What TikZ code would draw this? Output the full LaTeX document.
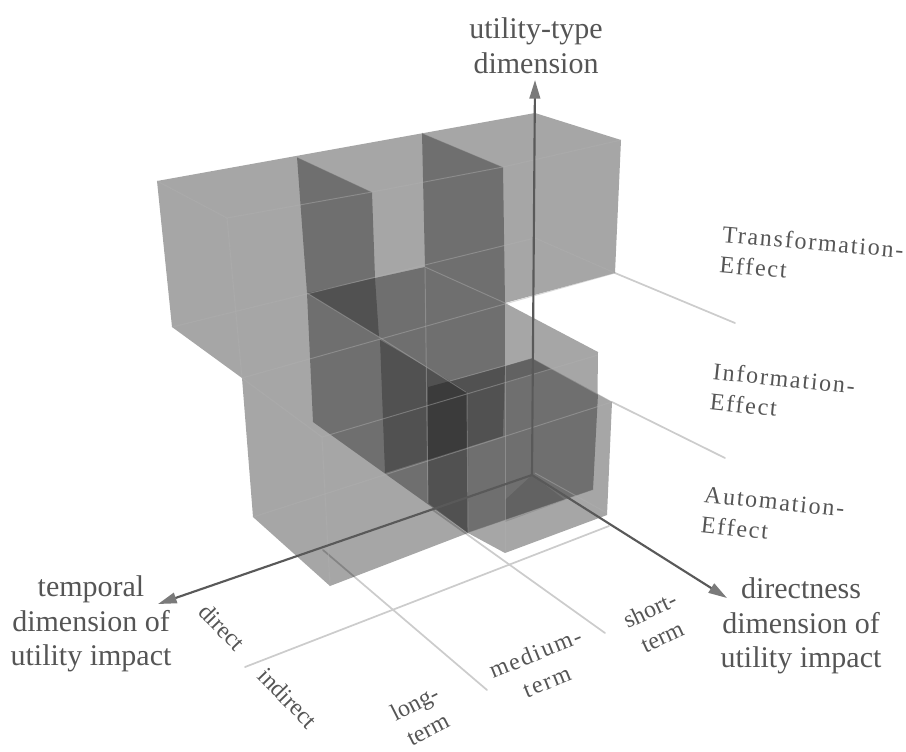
\documentclass[tikz,border=0pt]{standalone}
\usepackage{fontspec}
\setmainfont{Liberation Serif}
\newfontfamily\tracked[LetterSpace=7.5]{Liberation Serif}
\usetikzlibrary{arrows.meta}
\definecolor{txt}{HTML}{555555}
\begin{document}
\begin{tikzpicture}[x=0.75pt,y=-0.75pt,
  lay1/.style={fill=black,fill opacity=.35,draw=none},
  lay2/.style={fill=black,fill opacity=.33,draw=none},
  lay3/.style={fill=black,fill opacity=.27,draw=none},
  lay4/.style={fill=black,fill opacity=.12,draw=none},
  edge/.style={draw=gray!62,line width=.7pt,opacity=.45},
  grid/.style={draw=black!20,line width=1.3pt,line cap=round},
  axis/.style={draw=black!65,line width=1.6pt,-{Triangle[length=14pt,width=8pt,color=black!52]}},
  big/.style={text=txt,font=\fontsize{22.5}{26}\selectfont,align=center,inner sep=0pt},
  small/.style={text=txt,font=\fontsize{18}{22}\selectfont,inner sep=0pt},
  spaced/.style={text=txt,font=\tracked\fontsize{18}{23}\selectfont,inner sep=0pt}]
\useasboundingbox (0,0) rectangle (906,751);
% named points
\coordinate (o) at (532,475);
\coordinate (up) at (535,80);
\coordinate (lf) at (158,604);
\coordinate (rt) at (727,598);
\coordinate (g1a) at (615,273); \coordinate (g1b) at (735,323);
\coordinate (g2a) at (612,402); \coordinate (g2b) at (725,458);
\coordinate (g3a) at (609,526); \coordinate (g3b) at (245,667);
\coordinate (g4a) at (323,550); \coordinate (g4b) at (487,690);
\coordinate (g5a) at (433,510); \coordinate (g5b) at (605,633);
% grid lines
\draw[grid] (g1a) -- (g1b);
\draw[grid] (g2a) -- (g2b);
\draw[grid] (g3a) -- (g3b);
\draw[grid] (g4a) -- (g4b);
\draw[grid] (g5a) -- (g5b);
% silhouette
\path[lay1] (157,181) -- (535,113) -- (621,140) -- (615,273) -- (505,303) -- (598,352) -- (597.5,394) -- (612,402) -- (607,515) -- (505,553) -- (468,533) -- (330,586) -- (253,517) -- (242,378) -- (172,327) -- cycle;
% second layer
\path[lay2] (297,157) -- (372,192) -- (375,278) -- (425,267) -- (422,133) -- (503,167) -- (505,303) -- (505,366) -- (532,358) -- (598,394) -- (593,490) -- (468,533) -- (313,422) -- (307,293) -- cycle;
% third layer
\path[lay3] (307,293) -- (375,278) -- (379,337) -- cycle;
\path[lay3] (380,340) -- (450,381) -- (505,366) -- (503,436) -- (385,473) -- cycle;
\path[lay3] (428,459) -- (468,447) -- (468,533) -- (428,503) -- cycle;
% darkest
\path[lay3] (428,387) -- (450,381) -- (467,392) -- (468,447) -- (428,459) -- cycle;
\path[lay4] (532,475) -- (565,500) -- (505,522) -- (505,500) -- cycle;
\path[lay4] (505,366) -- (532,358) -- (552,369) -- (505,383) -- cycle;
% box edges
\draw[edge] (157,181) -- (227,218) -- (372,192) -- (503,167) -- (621,140);
\draw[edge] (227,218) -- (242,378);
\draw[edge] (172,327) -- (535,238) -- (615,273);
\draw[edge] (242,378) -- (615,273);
\draw[edge] (297,157) -- (372,192);
\draw[edge] (422,133) -- (503,167);
\draw[edge] (307,293) -- (379,337) -- (466,392);
\draw[edge] (425,267) -- (505,303);
\draw[edge] (425,267) -- (428,503);
\draw[edge] (505,303) -- (505,553);
\draw[edge] (322,437) -- (598,355);
\draw[edge] (242,378) -- (322,437) -- (330,586);
\draw[edge] (253,517) -- (612,402);
\draw[edge] (467,392) -- (468,533) -- (593,490);
\draw[edge] (450,381) -- (532,358) -- (612,402);
\draw[edge] (535,473) -- (607,513);
% axes
\draw[axis] (o) -- (up);
\draw[axis] (o) -- (lf);
\draw[axis] (o) -- (rt);
% labels
\node[big] (lu) at (536,46) {utility-type\\dimension};
\node[big] (lt) at (91,624) {temporal\\dimension of\\utility impact};
\node[big] (ld) at (801,626) {directness\\dimension of\\utility impact};
\node[spaced,rotate=-5,align=left,anchor=north west] (l1) at (723,225) {Transformation-\\Effect};
\node[spaced,rotate=-6,align=left,anchor=north west] (l2) at (714,362) {Information-\\Effect};
\node[spaced,rotate=-6,align=left,anchor=north west] (l3) at (705,486) {Automation-\\Effect};
\node[small,rotate=-46] (l4) at (222,627) {direct};
\node[small,rotate=-46] (l5) at (288,698) {indirect};
\node[small,rotate=27,align=center] (l6) at (421,716) {long-\\term};
\node[spaced,rotate=22,align=center] (l7) at (541,667) {medium-\\term};
\node[small,rotate=25,align=center] (l8) at (656,623) {short-\\term};
\end{tikzpicture}
\end{document}
